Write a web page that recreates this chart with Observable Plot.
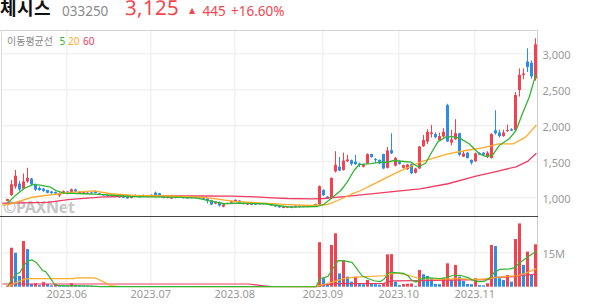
<!DOCTYPE html>
<html lang="ko">
<head>
<meta charset="utf-8">
<script src="https://cdn.jsdelivr.net/npm/d3@7"></script>
<script src="https://cdn.jsdelivr.net/npm/@observablehq/plot@0.6"></script>
<style>
@font-face{font-family:"TitleKR";src:local("Noto Sans CJK KR Bold"),local("NotoSansCJKkr-Bold"),local("Noto Sans CJK KR");font-weight:700;ascent-override:86%;descent-override:14%;line-gap-override:0%;}
@font-face{font-family:"TitleNum";src:local("Noto Sans Regular"),local("NotoSans-Regular"),local("Noto Sans");font-weight:400;ascent-override:76%;descent-override:22%;line-gap-override:0%;}
html,body{margin:0;padding:0;background:#fff;}
#wrap{position:relative;width:594px;height:304px;overflow:hidden;font-family:"Noto Sans","Noto Sans CJK KR",sans-serif;}
#wm{position:absolute;left:3px;top:199px;font:bold 16px/16px "Noto Sans",sans-serif;color:#c6c6c6;letter-spacing:-0.3px;}
#price{position:absolute;left:0;top:30px;}
#volume{position:absolute;left:0;top:217px;}
.ln{position:absolute;}
.t{position:absolute;white-space:nowrap;font-family:"Noto Sans",sans-serif;}
#head{position:absolute;left:0;top:0;}
</style>
</head>
<body>
<div id="wrap">
  <div id="wm">©PAXNet</div>
  <div id="price"></div>
  <div id="volume"></div>
  <div class="ln" style="left:0;top:30px;width:538px;height:1px;background:#d2d2d2"></div>
  <div class="ln" style="left:1px;top:30px;width:1px;height:257px;background:#dcdcdc"></div>
  <div class="ln" style="left:537px;top:30px;width:1px;height:257px;background:#cfcfcf"></div>
  <div class="ln" style="left:0;top:216px;width:538px;height:1px;background:#444"></div>
  <div class="t" style="left:0;top:0;font:700 18px/18px 'TitleKR','Noto Sans CJK KR',sans-serif;color:#111">체시스</div>
  <div class="t" style="left:62px;top:4.3px;font-size:13.5px;line-height:14px;color:#8a8a8a">033250</div>
  <div class="t" style="left:124.5px;top:0;font:400 20.5px/20px 'TitleNum','Noto Sans',sans-serif;color:#f2464f">3,125</div>
  <div class="t" style="left:189px;top:6.6px;font:8px/8px 'DejaVu Sans',sans-serif;color:#f2464f">▲</div>
  <div class="t" style="left:202.5px;top:4.3px;font-size:13.5px;line-height:14px;color:#f2464f">445</div>
  <div class="t" style="left:231px;top:4.3px;font-size:13.5px;line-height:14px;color:#f2464f">+16.60%</div>
  <svg id="head" width="594" height="50" font-family="Noto Sans, Noto Sans CJK KR, sans-serif">
    <text x="7" y="45" font-size="10" fill="#888" font-family="Noto Sans CJK KR">이동평균선</text>
    <text x="59.5" y="45" font-size="10" fill="#2fb52f">5</text>
    <text x="68" y="45" font-size="10" fill="#ffaa28">20</text>
    <text x="83" y="45" font-size="10" fill="#ef3a66">60</text>
  </svg>
</div>
<script>
// ---- daily candles (trading-day index 0 = 2023-05-10) ----
const open = [
950,1030,1150,1190,1120,1220,1260,1180,1130,1120,
1100,1080,1072,1025,1055,
1080,1075,1108,1050,1052,1050,1068,1078,1055,1040,
1032,1010,1020,1015,1010,1005,990,1030,1020,1018,
1030,
1015,1065,1055,1010,990,982,1005,1005,1000,998,
990,1005,1000,995,985,960,912,935,870,910,
925,
945,955,925,898,912,918,902,915,912,905,
895,882,852,855,875,862,880,866,882,885,
875,900,
1100,1010,990,1360,1425,1380,1500,1515,1495,1470,
1425,1470,1600,1530,1520,1600,1410,1655,1440,
1495,1410,1390,1460,1340,1400,1710,1775,1880,1880,
1795,1845,2280,1760,1805,1890,1565,1620,1520,
1500,1615,1620,1560,1545,1930,1900,1850,1920,1945,
1935,2490,2700,2885,2870,2650];
const high = [
980,1240,1380,1230,1330,1410,1270,1190,1150,1130,
1105,1090,1080,1068,1095,
1085,1120,1120,1080,1078,1070,1075,1095,1060,1045,
1038,1030,1025,1020,1015,1010,1008,1040,1025,1040,
1035,
1040,1080,1060,1015,1012,1005,1010,1008,1003,1000,
1008,1008,1003,998,988,965,945,940,910,925,
955,
970,960,928,918,915,920,918,918,915,908,
898,885,875,878,880,885,883,886,885,888,
915,1165,
1110,1015,1275,1640,1560,1620,1590,1525,1590,1480,
1465,1610,1605,1545,1525,1605,1700,1890,1560,
1510,1455,1465,1470,1410,1710,1865,1945,2005,1900,
1900,1960,2300,1935,2085,1895,1640,1630,1525,
1620,1625,1630,1640,1890,2210,1940,1940,2010,1960,
2460,2790,2790,3070,2900,3210];
const low = [
945,1020,1120,1090,1110,1200,1170,1090,1090,1075,
1055,1050,1040,1005,1050,
1040,1070,1075,1045,1048,1045,1050,1055,1030,1020,
1012,1005,1000,995,990,980,985,1005,995,1012,
1010,
1010,1025,1025,985,985,975,985,990,985,980,
985,985,985,975,915,890,905,870,862,905,
920,
940,915,900,892,890,892,898,900,895,880,
868,855,848,850,848,858,860,862,862,868,
870,895,
1020,975,985,1345,1365,1370,1490,1440,1450,1420,
1415,1465,1550,1480,1460,1390,1400,1600,1430,
1455,1400,1380,1320,1330,1395,1700,1740,1830,1820,
1790,1830,1770,1720,1800,1570,1560,1540,1455,
1490,1590,1580,1545,1540,1870,1830,1840,1910,1920,
1930,2400,2640,2740,2650,2620];
const close = [
975,1180,1300,1110,1220,1270,1180,1105,1100,1090,
1062,1058,1050,1060,1085,
1050,1110,1080,1075,1070,1065,1058,1060,1035,1025,
1018,1025,1005,1000,995,985,1005,1010,1000,1032,
1015,
1035,1032,1032,990,1009,1000,990,995,988,985,
1005,990,988,978,950,900,938,885,900,920,
950,
965,922,905,912,895,898,915,905,900,885,
872,860,870,872,855,882,865,882,866,872,
905,1155,
1030,985,1270,1450,1370,1510,1525,1465,1460,1450,
1455,1600,1560,1515,1470,1400,1650,1610,1545,
1465,1445,1455,1335,1400,1705,1795,1910,1900,1835,
1850,1910,1775,1805,1890,1590,1610,1545,1480,
1610,1595,1590,1620,1880,1890,1850,1900,1935,1925,
2420,2700,2720,2810,2680,3125];
// volume in millions of shares
const volume = [
0.5,17.0,14.8,4.7,19.9,16.4,1.2,1.5,0.7,2.0,1.2,0.6,1.2,0.7,0.6,
0.5,1.5,0.7,0.6,0.5,0.45,0.4,0.3,0.25,0.3,0.2,0.25,0.2,0.2,0.15,0.2,0.2,0.15,0.2,0.15,0.15,
0.2,0.25,0.2,0.15,0.15,0.2,0.15,0.15,0.1,0.15,0.15,0.1,0.15,0.15,0.2,0.25,0.15,0.2,0.2,0.15,0.15,
0.2,0.15,0.15,0.1,0.15,0.1,0.15,0.1,0.1,0.15,0.15,0.2,0.15,0.15,0.15,0.1,0.1,0.15,0.1,0.1,0.2,
19.4,3.7,1.0,18.2,23.3,5.8,11.6,4.4,2.2,4.4,1.2,1.1,2.9,1.2,1.1,0.9,1.5,14.1,14.2,2.2,
0.7,1.2,1.3,1.4,0.4,7.3,5.4,4.7,3.7,1.2,1.1,3.7,10.2,2.9,9.5,4.4,2.5,1.2,1.1,
3.7,0.7,0.6,1.5,18.2,17.7,3.7,2.9,5.1,2.2,20.8,27.6,9.5,15.3,5.1,18.5];

// ---- moving-average lines (day index, value) ----
const ma5Idx = [0,2,4,6.5,8,10.7,12,14,16,19,23,26,30.7,35,39,43,47.3,50.7,54,57.3,60,64,67.3,70.7,74,77.3,79,80.7,83.2,84.8,86.5,87.8,90.7,93.2,94.8,96.5,99,100.8,102.5,104.4,106,107.5,109.4,111,112.8,115.3,117.8,119.4,121.1,122.8,125.3,127,128.6,130.3,132];
const ma5Val = [930,1040,1130,1185,1175,1147,1100,1064,1060,1056,1046,1035,1018,1012,1009,1005,995,953,917,925,922,917,893,869,875,879,910,986,1101,1217,1379,1462,1475,1494,1494,1518,1504,1494,1430,1480,1640,1780,1842,1851,1833,1750,1611,1574,1588,1726,1819,1935,2167,2397,2722];
const ma20Idx = [-1.3,0,6.4,15,21.4,25.7,31.4,40,48,52,56.4,65,70,75.7,79.9,82.4,85.7,88.2,92.4,97.4,103,110,114.4,118.7,122.7,126.4,129.4,132];
const ma20Val = [900,905,1011,1071,1097,1056,1032,1025,1008,985,949,921,905,893,907,962,1046,1101,1217,1356,1494,1611,1657,1694,1750,1750,1842,2004];
const ma60Idx = [-1.3,0,10,15,23,32,48,56,62,66,70,76,79,84,92,98,103,110,117,122,127,130,132];
const ma60Val = [925,925,935,975,1010,1025,1025,1022,1012,1000,990,985,990,1015,1060,1095,1125,1195,1300,1365,1430,1510,1615];
const vma5Idx = [0,1,2,3,4,5,6,7,8,8.6,9.4,10.3,11.5,12.4,14,18,21,23,77,78,80,81,82.5,84,86,87,88.5,90,91.5,93,94,95.2,96,99,100,101,102,103,104.5,108,109.5,111,113,115,116,117.5,119,120.5,121.5,123,125.5,126.5,128,129.5,131,132];
const vma5Val = [0.5,3.5,5.5,6.5,9.5,11.5,11.9,10.9,8.8,7.3,6.8,4.7,1.5,0.8,0.6,0.6,0.5,0.25,0.2,3.7,4.7,7.5,11.6,11.5,10.8,8.5,5.0,3.8,2.8,2.4,3.5,6.3,6.5,6.0,5.0,3.0,2.2,3.5,4.2,3.8,4.2,5.0,5.2,4.2,3.2,2.4,2.5,4.2,6.3,7.8,8.0,8.4,10.8,12.6,14.5,15.6];
const vma20Idx = [0,1,2.3,4,5.2,16.5,17,21.5,22.3,23.2,24,25.7,28,77,78,79.2,81,82.5,84.5,88,94,95.5,97.3,99,100.6,102.3,104,108,111,113,115,117.4,120,122.4,125.7,127.5,129,130.6,132];
const vma20Val = [0.3,1.2,2.2,3.4,3.7,3.7,4.1,4.1,3.7,2.9,2.2,0.7,0.3,0.25,0.8,1.3,2.2,3.0,4.0,4.5,5.0,5.8,6.2,5.6,5.0,4.0,3.6,3.5,3.6,3.8,3.5,3.4,3.7,4.4,4.8,5.0,5.8,7.0,8.0];
const vma60Idx = [-1.3,60,62,64,66,77,78,79,82,84,94,95,96,103,110,120,121,122,127,128,132];
const vma60Val = [1.4,1.4,1.0,0.6,0.3,0.25,0.5,1.0,1.5,1.6,1.7,2.2,2.8,2.9,3.1,3.3,3.9,4.3,4.6,5.1,5.6];

// ---- axes ----
const monthStarts = [15,36,57,79,98,117];
const monthLabels = ["2023.06","2023.07","2023.08","2023.09","2023.10","2023.11"];
const priceTicks = [1000,1500,2000,2500,3000];
const priceTickLabels = ["1,000","1,500","2,000","2,500","3,000"];
const volTicks = [15];
const volTickLabels = ["15M"];

const RED = "#f4414d", BLUE = "#2a8deb", GREEN = "#33b533", ORANGE = "#ffaa28", PINK = "#ef3c62";
const days = close.map((c, i) => ({
  i, o: open[i], h: high[i], l: low[i], c, v: volume[i],
  up: c >= open[i], vup: i === 0 || volume[i] >= volume[i - 1]
}));
const pairs = (xs, ys) => xs.map((x, k) => ({x, y: ys[k]}));
const xDomain = [-1.375, 132.5];
const gridX = monthStarts.map(d => d - 0.3);
const font = {background: "transparent", overflow: "visible", fontFamily: "Noto Sans, sans-serif"};

const price = Plot.plot({
  width: 594, height: 186,
  marginLeft: 2, marginRight: 56.5, marginTop: 0, marginBottom: 0,
  style: font,
  x: {domain: xDomain, axis: null},
  y: {domain: [740, 3324], axis: null},
  color: {type: "identity"},
  marks: [
    Plot.ruleY(priceTicks, {stroke: "#ececec"}),
    Plot.ruleX(gridX, {stroke: "#ececec"}),
    Plot.rect(days, {x1: d => d.i - 0.125, x2: d => d.i + 0.125, y1: "l", y2: "h", fill: d => d.up ? RED : BLUE}),
    Plot.rect(days, {x1: d => d.i - 0.375, x2: d => d.i + 0.375, y1: "o", y2: "c", fill: d => d.up ? RED : BLUE}),
    Plot.line(pairs(ma60Idx, ma60Val), {x: "x", y: "y", stroke: PINK, strokeWidth: 1.3}),
    Plot.line(pairs(ma20Idx, ma20Val), {x: "x", y: "y", stroke: ORANGE, strokeWidth: 1.3}),
    Plot.line(pairs(ma5Idx, ma5Val), {x: "x", y: "y", stroke: GREEN, strokeWidth: 1.3}),
    Plot.text(priceTicks, {x: xDomain[1], y: d => d, text: (d, k) => priceTickLabels[k],
      textAnchor: "start", dx: 4.5, dy: 2, fill: "#9a9a9a", fontSize: 11})
  ]
});
document.getElementById("price").append(price);

const vol = Plot.plot({
  width: 594, height: 87,
  marginLeft: 2, marginRight: 56.5, marginTop: 0, marginBottom: 17.3,
  style: font,
  x: {domain: xDomain, axis: null},
  y: {domain: [0, 30.4], axis: null},
  color: {type: "identity"},
  marks: [
    Plot.ruleY(volTicks, {stroke: "#ececec"}),
    Plot.ruleX(gridX, {stroke: "#ececec"}),
    Plot.rect(days, {x1: d => d.i - 0.375, x2: d => d.i + 0.375, y1: 0, y2: "v", fill: d => d.vup ? RED : BLUE}),
    Plot.line(pairs(vma60Idx, vma60Val), {x: "x", y: "y", stroke: PINK, strokeWidth: 1.2}),
    Plot.line(pairs(vma20Idx, vma20Val), {x: "x", y: "y", stroke: ORANGE, strokeWidth: 1.2}),
    Plot.line(pairs(vma5Idx, vma5Val), {x: "x", y: "y", stroke: GREEN, strokeWidth: 1.2}),
    Plot.text(volTicks, {x: xDomain[1], y: d => d, text: (d, k) => volTickLabels[k],
      textAnchor: "start", dx: 4.5, dy: 1.5, fill: "#9a9a9a", fontSize: 11}),
    Plot.text(gridX, {x: d => d, y: 0, text: (d, k) => monthLabels[k], dy: 6.8,
      fill: "#9a9a9a", fontSize: 11})
  ]
});
document.getElementById("volume").append(vol);
</script>
</body>
</html>
